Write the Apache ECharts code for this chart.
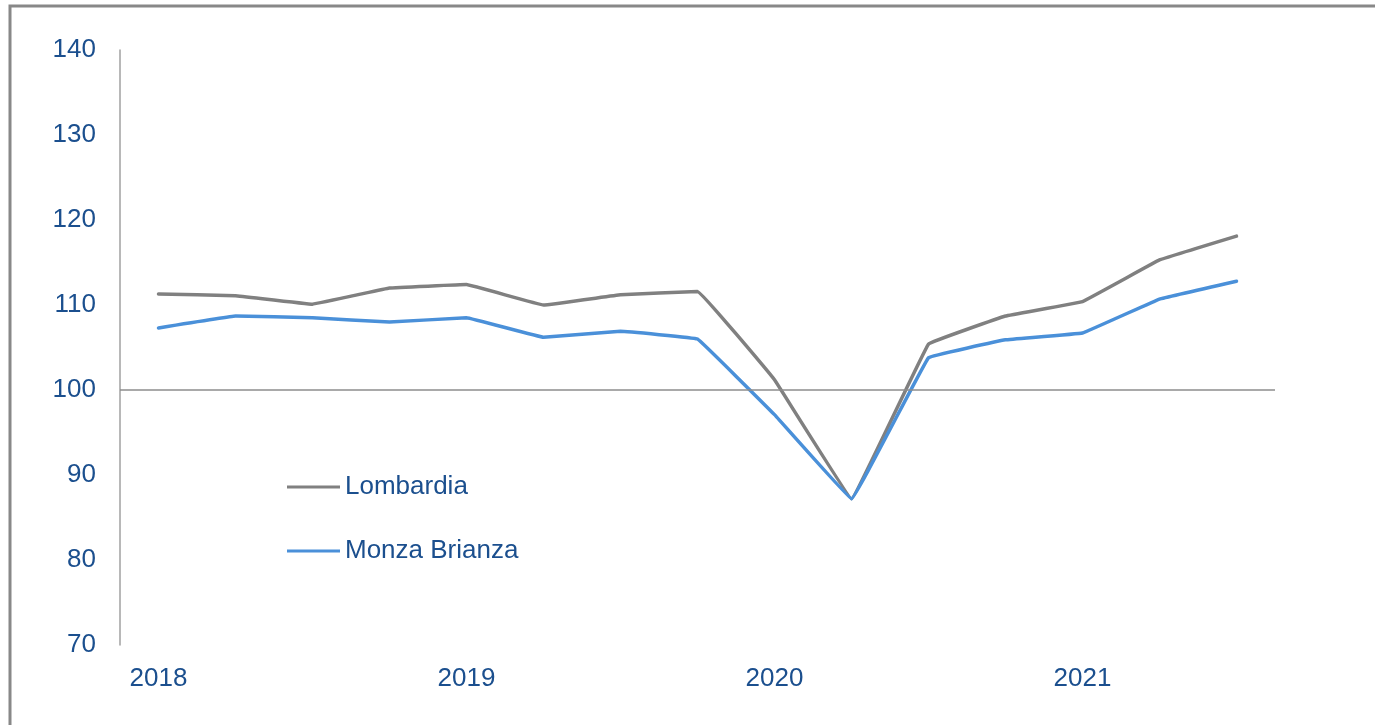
<!DOCTYPE html>
<html>
<head>
<meta charset="utf-8">
<script src="https://cdn.jsdelivr.net/npm/echarts@6/dist/echarts.min.js"></script>
<style>
  html, body { margin: 0; padding: 0; background: #fff; }
  #chart { width: 1375px; height: 725px; }
</style>
</head>
<body>
<div id="chart"></div>
<script>
// trimestri 2018 T1 .. 2021 T3
const quarters = ['2018-T1', '2018-T2', '2018-T3', '2018-T4',
  '2019-T1', '2019-T2', '2019-T3', '2019-T4',
  '2020-T1', '2020-T2', '2020-T3', '2020-T4',
  '2021-T1', '2021-T2', '2021-T3']
const lombardia = [111.3, 111.1, 110.1, 112.0, 112.4, 110.0, 111.2, 111.6,
  101.2, 87.2, 105.4, 108.7, 110.4, 115.3, 118.1]
const monza = [107.3, 108.7, 108.5, 108.0, 108.5, 106.2, 106.9, 106.0,
  97.1, 87.2, 103.8, 105.9, 106.7, 110.7, 112.8]
const baseLine = 100

const textColor = '#1b4f8e'
const font = 'Liberation Sans, Arial, sans-serif'

let myChart = echarts.init(document.getElementById('chart'))
let option = {
  backgroundColor: '#fff',
  animation: false,
  textStyle: { fontFamily: font },
  graphic: [{
    type: 'rect',
    shape: { x: 10, y: 6, width: 1400, height: 760 },
    style: { fill: 'none', stroke: '#888', lineWidth: 3 },
    silent: true
  }],
  grid: { left: 120, top: 50, right: 100, bottom: 80 },
  legend: {
    orient: 'vertical',
    left: 287,
    top: 474,
    padding: 0,
    itemGap: 38,
    itemWidth: 53,
    itemHeight: 3,
    icon: 'rect',
    textStyle: { color: textColor, fontSize: 26, fontFamily: font },
    data: ['Lombardia', 'Monza Brianza']
  },
  xAxis: {
    type: 'category',
    data: quarters,
    boundaryGap: true,
    axisLine: { show: false },
    axisTick: { show: false },
    axisLabel: {
      interval: 3,
      color: textColor,
      fontSize: 26,
      margin: 21,
      formatter: v => v.slice(0, 4)
    }
  },
  yAxis: {
    type: 'value',
    min: 70,
    max: 140,
    interval: 10,
    axisLine: { show: true, lineStyle: { color: '#a0a0a0', width: 1.5 } },
    axisTick: { show: false },
    splitLine: { show: false },
    axisLabel: { color: textColor, fontSize: 26, margin: 24 }
  },
  series: [{
    name: 'Lombardia',
    type: 'line',
    data: lombardia,
    symbol: 'none',
    smooth: 0.04,
    itemStyle: { color: '#808080' },
    lineStyle: { color: '#808080', width: 3.5, cap: 'round', join: 'round' },
    markLine: {
      silent: true,
      symbol: 'none',
      label: { show: false },
      lineStyle: { color: '#8c8c8c', width: 1.5, type: 'solid' },
      data: [{ yAxis: baseLine }]
    },
    z: 3
  }, {
    name: 'Monza Brianza',
    type: 'line',
    data: monza,
    symbol: 'none',
    smooth: 0.04,
    itemStyle: { color: '#4a90d9' },
    lineStyle: { color: '#4a90d9', width: 3.5, cap: 'round', join: 'round' },
    z: 4
  }]
}
myChart.setOption(option)
</script>
</body>
</html>
